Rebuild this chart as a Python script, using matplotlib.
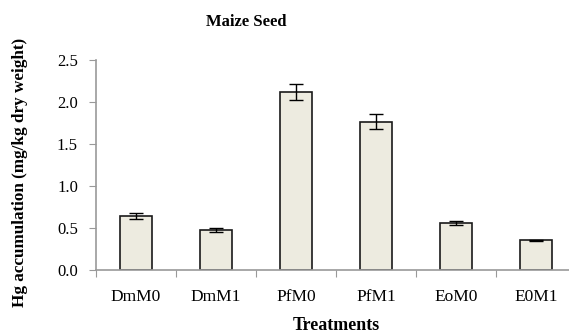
import matplotlib.pyplot as plt
import numpy as np

treatments = ['DmM0', 'DmM1', 'PfM0', 'PfM1', 'EoM0', 'E0M1']
hg_values = [0.646, 0.476, 2.12, 1.766, 0.556, 0.353]
hg_errors = [0.033, 0.024, 0.095, 0.088, 0.025, 0.010]

plt.rcParams['font.family'] = ['Liberation Serif', 'DejaVu Serif']

W, H = 569, 334
fig = plt.figure(figsize=(W / 100, H / 100), dpi=100)
# axes extends a bit past the right edge, as in the cropped original
ax = fig.add_axes([96 / W, (H - 270) / H, 480 / W, 210 / H])

x = np.arange(len(treatments))
ax.bar(x, hg_values, width=0.4, color='#edebe0', edgecolor='#1a1a1a',
       linewidth=1.2, zorder=2)
ax.errorbar(x, hg_values, yerr=hg_errors, fmt='none', ecolor='black',
            elinewidth=1, capsize=5, capthick=1, zorder=3)

ax.set_xlim(-0.5, len(treatments) - 0.5)
ax.set_ylim(0, 2.5)
yticks = np.arange(0, 2.51, 0.5)
ax.set_yticks(yticks)
ax.set_yticklabels([f'{v:.1f}' for v in yticks], fontsize=12)

ax.set_xticks(np.arange(-0.5, len(treatments) - 0.4, 1))
ax.set_xticklabels([])
ax.set_xticks(x, minor=True)
ax.set_xticklabels(treatments, minor=True, fontsize=12.5)
ax.tick_params(axis='x', which='minor', length=0, pad=14)
ax.tick_params(axis='x', which='major', length=5, color='#999999', direction='out')
ax.tick_params(axis='y', length=5, color='#999999', pad=8)

for side in ['top', 'right']:
    ax.spines[side].set_visible(False)
for side in ['left', 'bottom']:
    ax.spines[side].set_color('#999999')
    ax.spines[side].set_linewidth(1.2)

fig.text(246 / W, 1 - 22 / H, 'Maize Seed', ha='center', va='center',
         fontsize=12, fontweight='bold')
fig.text(336 / W, 1 - 326 / H, 'Treatments', ha='center', va='center',
         fontsize=13, fontweight='bold')
fig.text(20 / W, 1 - 172 / H, 'Hg accumulation (mg/kg dry weight)', ha='center',
         va='center', rotation=90, fontsize=12.3, fontweight='bold')

fig.savefig('out.png', dpi=100)
